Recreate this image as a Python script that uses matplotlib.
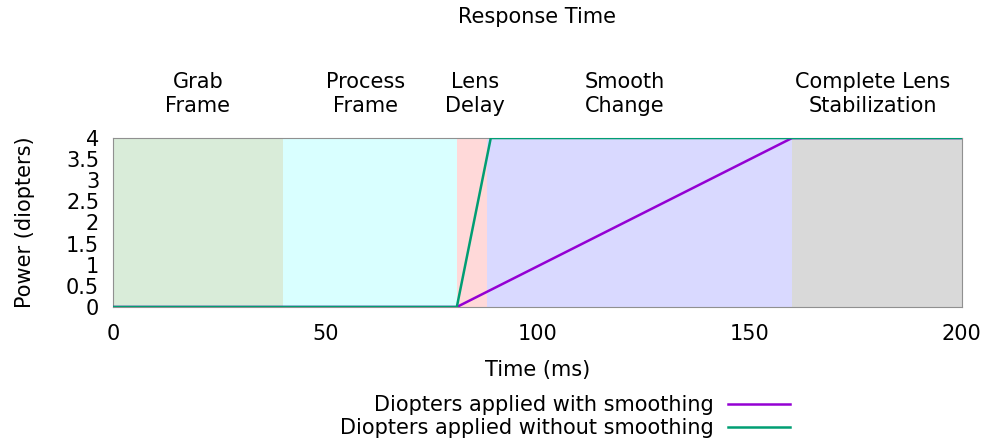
import matplotlib.pyplot as plt
from matplotlib.lines import Line2D

# phases of the response (ms)
phase_starts = [0, 40, 81, 88, 160]
phase_ends = [40, 81, 88, 160, 200]
phase_labels = ["Grab\nFrame", "Process\nFrame", "Lens\nDelay", "Smooth\nChange", "Complete Lens\nStabilization"]
phase_label_x = [20, 59.5, 85.3, 120.5, 179]
phase_colors = ["#d9ecd9", "#d9ffff", "#ffd9d9", "#d9d9ff", "#d9d9d9"]

# diopter curves
t_smooth = [0, 81, 160, 200]
d_smooth = [0, 0, 4, 4]
t_nosmooth = [0, 81, 89, 200]
d_nosmooth = [0, 0, 4, 4]

FS = 15
plt.rcParams['font.family'] = ['DejaVu Sans']
fig = plt.figure(figsize=(9.83, 4.43), dpi=100)
ax = fig.add_axes([0.115, 0.307, 0.8635, 0.3815])

for s, e, c in zip(phase_starts, phase_ends, phase_colors):
    ax.axvspan(s, e, color=c, lw=0, zorder=0)
for x, lab in zip(phase_label_x, phase_labels):
    ax.text(x, 5.03, lab, ha='center', va='center', fontsize=FS, linespacing=1.25)

ax.plot(t_smooth, d_smooth, color='#9400d3', lw=1.8, zorder=3)
ax.plot(t_nosmooth, d_nosmooth, color='#009e73', lw=1.8, zorder=4)

ax.set_xlim(0, 200)
ax.set_ylim(0, 4)
ax.set_xticks([0, 50, 100, 150, 200])
ax.set_yticks([0, 0.5, 1, 1.5, 2, 2.5, 3, 3.5, 4])
ax.set_yticklabels(['0', '0.5', '1', '1.5', '2', '2.5', '3', '3.5', '4'])
ax.tick_params(length=0, labelsize=FS)
ax.tick_params(axis='x', pad=12)
ax.tick_params(axis='y', pad=10)
for sp in ax.spines.values():
    sp.set_color('#909090')
ax.set_xlabel("Time (ms)", fontsize=FS, labelpad=12)
ax.set_ylabel("Power (diopters)", fontsize=FS, labelpad=22)
fig.text(0.5 * (0.115 + 0.9785), 1 - 17 / 443, "Response Time", ha='center', va='center', fontsize=FS)

handles = [Line2D([], [], color='#9400d3', lw=1.8), Line2D([], [], color='#009e73', lw=1.8)]
fig.legend(handles, ["Diopters applied with smoothing", "Diopters applied without smoothing"],
           loc='center', bbox_to_anchor=(0.575, 0.059), markerfirst=False, frameon=False,
           fontsize=FS, handlelength=3.0, labelspacing=0.15, handletextpad=0.65,
           borderpad=0, borderaxespad=0)

fig.savefig("out.png", dpi=100)
